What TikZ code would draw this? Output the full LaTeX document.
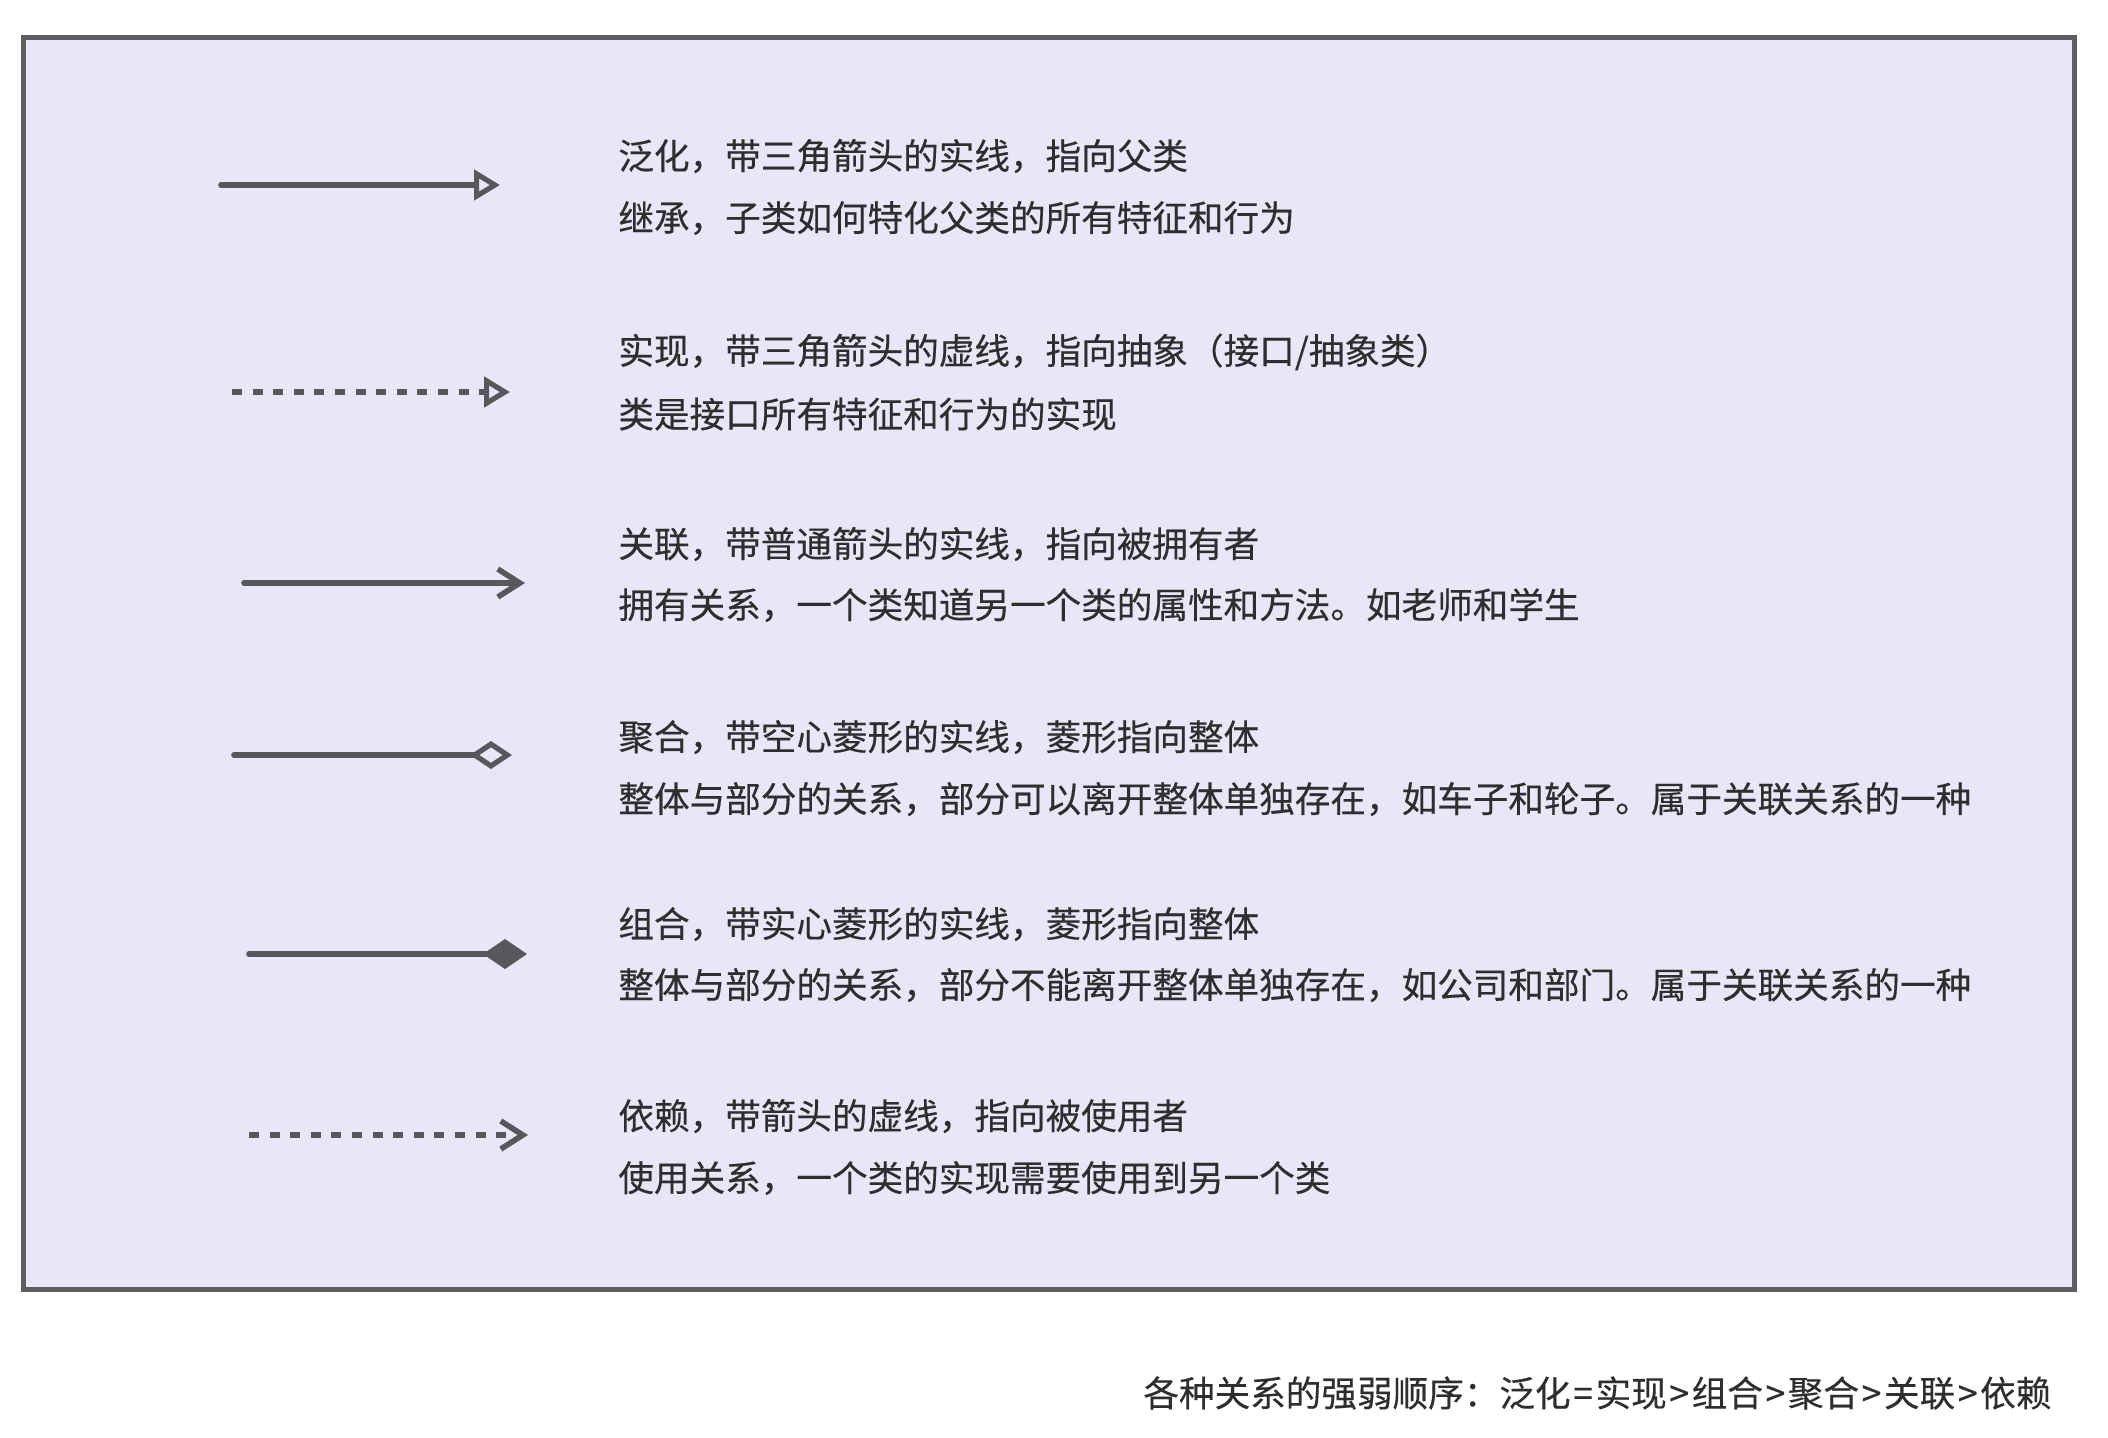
\documentclass[tikz,border=0pt]{standalone}
\usepackage{fontspec}
\newfontfamily\cjk[FakeBold=0.35]{Noto Sans CJK SC}
\usetikzlibrary{arrows.meta}
\definecolor{bgfill}{HTML}{E9E6F8}
\definecolor{frameclr}{HTML}{5E5E62}
\definecolor{edgeclr}{HTML}{58585C}
\definecolor{txtclr}{HTML}{2E2E2E}
\newcommand{\sym}[1]{\kern1.3pt#1\kern1.3pt}
\begin{document}
\begin{tikzpicture}[x=0.5pt,y=-0.5pt,
  lbl/.style={anchor=west, inner sep=0pt, text=txtclr, font=\cjk\fontsize{17.8pt}{20pt}\selectfont},
  rel/.style={draw=edgeclr, line width=2.8pt, line cap=round},
  dsh/.style={draw=edgeclr, line width=2.8pt, dash pattern=on 5pt off 5.3pt},
  opentri/.style={-{Triangle[open, length=13pt, width=15pt, line width=2.6pt]}},
  barb/.style={-{Straight Barb[length=11pt, width=14pt, line width=2.8pt]}},
  odiam/.style={-{Diamond[open, length=21pt, width=14pt, line width=2.6pt]}},
  fdiam/.style={-{Diamond[length=22pt, width=15pt]}}]
\useasboundingbox (0,0) rectangle (2108,1437);
\path[draw=frameclr, fill=bgfill, line width=2.5pt] (23.5,37.5) rectangle (2074,1289);

% generalization
\coordinate (g1) at (221,185); \coordinate (g2) at (500,185);
\draw[rel, opentri] (g1) -- (g2);
\node[lbl] (gt1) at (618,156) {泛化，带三角箭头的实线，指向父类};
\node[lbl] (gt2) at (618,218) {继承，子类如何特化父类的所有特征和行为};

% realization
\coordinate (r1) at (232,392); \coordinate (r2) at (510,392);
\draw[dsh, opentri] (r1) -- (r2);
\node[lbl] (rt1) at (618,352) {实现，带三角箭头的虚线，指向抽象（接口/抽象类）};
\node[lbl] (rt2) at (618,414) {类是接口所有特征和行为的实现};

% association
\coordinate (a1) at (244,583); \coordinate (a2) at (525,583);
\draw[rel, barb] (a1) -- (a2);
\node[lbl] (at1) at (618,544) {关联，带普通箭头的实线，指向被拥有者};
\node[lbl] (at2) at (618,605) {拥有关系，一个类知道另一个类的属性和方法。如老师和学生};

% aggregation
\coordinate (ag1) at (234,755); \coordinate (ag2) at (512,755);
\draw[rel, odiam] (ag1) -- (ag2);
\node[lbl] (agt1) at (618,737) {聚合，带空心菱形的实线，菱形指向整体};
\node[lbl] (agt2) at (618,799) {整体与部分的关系，部分可以离开整体单独存在，如车子和轮子。属于关联关系的一种};

% composition
\coordinate (c1) at (249,954); \coordinate (c2) at (527,954);
\draw[rel, fdiam] (c1) -- (c2);
\node[lbl] (ct1) at (618,924) {组合，带实心菱形的实线，菱形指向整体};
\node[lbl] (ct2) at (618,985) {整体与部分的关系，部分不能离开整体单独存在，如公司和部门。属于关联关系的一种};

% dependency
\coordinate (d1) at (249,1135); \coordinate (d2) at (528,1135);
\draw[dsh, barb] (d1) -- (d2);
\node[lbl] (dt1) at (618,1116) {依赖，带箭头的虚线，指向被使用者};
\node[lbl] (dt2) at (618,1178) {使用关系，一个类的实现需要使用到另一个类};

% ordering
\node[lbl] (order) at (1143,1393) {各种关系的强弱顺序：泛化\sym{=}实现\sym{>}组合\sym{>}聚合\sym{>}关联\sym{>}依赖};
\end{tikzpicture}
\end{document}
